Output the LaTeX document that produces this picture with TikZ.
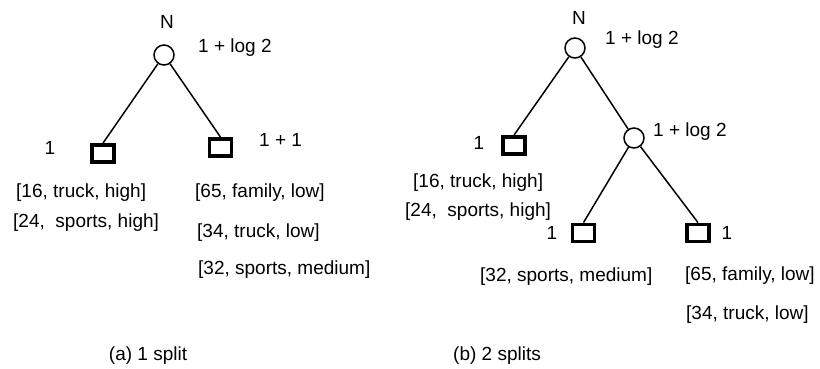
\documentclass[tikz,border=0pt]{standalone}
\usepackage{fontspec}
\setmainfont{Liberation Sans}
\begin{document}
\begin{tikzpicture}[x=1pt,y=-1pt,
  txt/.style={inner sep=0pt,font=\fontsize{19}{23}\selectfont},
  lbl/.style={txt,anchor=west},
  split/.style={circle,draw,line width=1.5pt,minimum size=20pt,inner sep=0pt},
  leaf/.style={rectangle,draw,line width=3.8pt,minimum width=22pt,minimum height=17pt,inner sep=0pt},
  edge/.style={line width=1.5pt}]
\useasboundingbox (0,0) rectangle (820,369);
% ---- (a) 1 split
\node[txt] (aN) at (167,22) {N};
\node[split] (aroot) at (164,55) {};
\node[lbl] (arootc) at (198,48) {1 + log 2};
\node[leaf] (aL) at (103,153.5) {};
\node[leaf] (aR) at (220.5,147.5) {};
\node[txt] (aLc) at (50,148) {1};
\node[lbl] (aRc) at (259,140) {1 + 1};
\draw[edge] (aroot) -- (aL.north);
\draw[edge] (aroot) -- (aR.north);
\node[lbl] (a1) at (16,193) {[16, truck, high]};
\node[lbl] (a2) at (13,223) {[24,~ sports, high]};
\node[lbl] (a3) at (195,193) {[65, family, low]};
\node[lbl] (a4) at (197,233) {[34, truck, low]};
\node[lbl] (a5) at (198,270) {[32, sports, medium]};
\node[txt] (acap) at (148,356) {(a) 1 split};
% ---- (b) 2 splits
\node[txt] (bN) at (579,18) {N};
\node[split] (broot) at (575,48) {};
\node[lbl] (brootc) at (605,40) {1 + log 2};
\node[leaf] (bL) at (514,145.5) {};
\node[txt] (bLc) at (479,143) {1};
\node[split] (bin) at (634,138) {};
\node[lbl] (binc) at (653,132) {1 + log 2};
\node[leaf] (bA) at (583.5,233) {};
\node[leaf] (bB) at (698,233) {};
\node[txt] (bAc) at (552,233) {1};
\node[txt] (bBc) at (727,233) {1};
\draw[edge] (broot) -- (bL.north);
\draw[edge] (broot) -- (bin);
\draw[edge] (bin) -- (bA.north);
\draw[edge] (bin) -- (bB.north);
\node[lbl] (b1) at (413,183) {[16, truck, high]};
\node[lbl] (b2) at (405,212) {[24,~ sports, high]};
\node[lbl] (b3) at (480,277) {[32, sports, medium]};
\node[lbl] (b4) at (685,276) {[65, family, low]};
\node[lbl] (b5) at (686,315) {[34, truck, low]};
\node[txt] (bcap) at (497,356) {(b) 2 splits};
\end{tikzpicture}
\end{document}
